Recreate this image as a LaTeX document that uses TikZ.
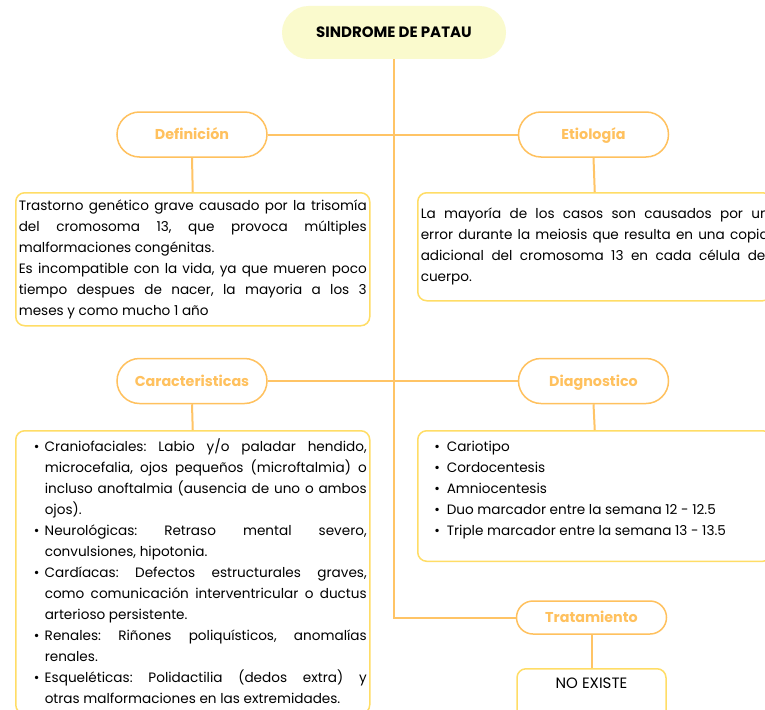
\documentclass[tikz,border=0pt]{standalone}
\usepackage{fontspec}
\setmainfont{Poppins}
\definecolor{pillc}{RGB}{255,193,94}
\definecolor{linec}{RGB}{255,196,102}
\definecolor{boxc}{RGB}{255,221,102}
\definecolor{titlef}{RGB}{250,250,205}
\newcommand\bul[1]{\par\noindent\hangindent=26pt\hangafter=1\makebox[26pt][l]{\hspace{#1}\textbullet}\ignorespaces}
\newcommand\bodyfont{\fontsize{13.6}{21}\selectfont\frenchspacing\spaceskip=\fontdimen2\font plus 3\fontdimen3\font minus 0.4\fontdimen2\font\relax}
\begin{document}
\begin{tikzpicture}[x=1pt,y=-1pt,
  pill/.style={draw=pillc, line width=1.5pt, fill=white, text=pillc,
    font=\fontsize{14.3}{16}\selectfont\bfseries, minimum width=150pt,
    minimum height=45pt, rounded corners=22.5pt, inner sep=0pt,
    text height=10pt, text depth=0pt},
  titlepill/.style={fill=titlef, minimum width=224pt, minimum height=53pt,
    rounded corners=26.5pt, font=\fontsize{15}{17}\selectfont\bfseries, inner sep=0pt},
  tbox/.style={draw=boxc, line width=1.5pt, fill=white, rounded corners=9pt,
    anchor=north west, inner xsep=3pt, inner ysep=0pt, text width=348pt,
    align=justify, font=\bodyfont},
  nbox/.style={draw=boxc, line width=1.5pt, fill=white, rounded corners=9pt,
    font=\fontsize{15}{17}\selectfont},
  conn/.style={draw=linec, line width=2pt}]
\useasboundingbox (0,0) rectangle (765,709);
\clip (0,0) rectangle (765,709);
\fill[white] (0,0) rectangle (765,709);

\node[titlepill] (title) at (394,32.5) {SINDROME DE PATAU};

\node[pill] (def) at (192,134.5) {Definición};
\node[pill] (eti) at (593.5,134.5) {Etiología};
\node[pill] (car) at (192,381) {Caracteristicas};
\node[pill] (diag) at (593.5,381) {Diagnostico};
\node[pill, minimum height=33pt, rounded corners=16.5pt] (trat) at (591.5,617.5) {Tratamiento};

\node[tbox, minimum height=133pt] (defbox) at (15,192) {Trastorno genético grave causado por la trisomía\linebreak del cromosoma 13, que provoca múltiples\linebreak malformaciones congénitas.\par Es incompatible con la vida, ya que mueren poco\linebreak tiempo despues de nacer, la mayoria a los 3\linebreak meses y como mucho 1 año\par};

\node[tbox, minimum height=108pt] (etibox) at (417,192) {La mayoría de los casos son causados por un\linebreak error durante la meiosis que resulta en una copia\linebreak adicional del cromosoma 13 en cada célula del\linebreak cuerpo.\par};

\node[tbox, minimum height=278pt] (carbox) at (15,430) {\bul{15pt}Craniofaciales: Labio y/o paladar hendido,\linebreak microcefalia, ojos pequeños (microftalmia) o\linebreak incluso anoftalmia (ausencia de uno o ambos\linebreak ojos).
\bul{15pt}Neurológicas: Retraso mental severo,\linebreak convulsiones, hipotonia.
\bul{15pt}Cardíacas: Defectos estructurales graves,\linebreak como comunicación interventricular o ductus\linebreak arterioso persistente.
\bul{15pt}Renales: Riñones poliquísticos, anomalías\linebreak renales.
\bul{15pt}Esqueléticas: Polidactilia (dedos extra) y\linebreak otras malformaciones en las extremidades.\par\kern10pt};

\node[tbox, minimum height=127pt] (diagbox) at (417,430) {\bul{13.5pt}Cariotipo
\bul{13.5pt}Cordocentesis
\bul{13.5pt}Amniocentesis
\bul{13.5pt}Duo marcador entre la semana 12 - 12.5
\bul{13.5pt}Triple marcador entre la semana 13 - 13.5\par\kern22pt};

\node[nbox, anchor=north, minimum width=149pt, inner ysep=10pt, text height=10pt, text depth=40pt] (noex) at (591.5,668) {NO EXISTE};

\draw[conn] (title.south) |- (trat.west);
\draw[conn] (def.east) -- (eti.west);
\draw[conn] (car.east) -- (diag.west);
\draw[conn] (def.south) -- (defbox.north);
\draw[conn] (eti.south) -- (etibox.north);
\draw[conn] (car.south) -- (carbox.north);
\draw[conn] (diag.south) -- (diagbox.north);
\draw[conn] (trat.south) -- (noex.north);
\end{tikzpicture}
\end{document}
